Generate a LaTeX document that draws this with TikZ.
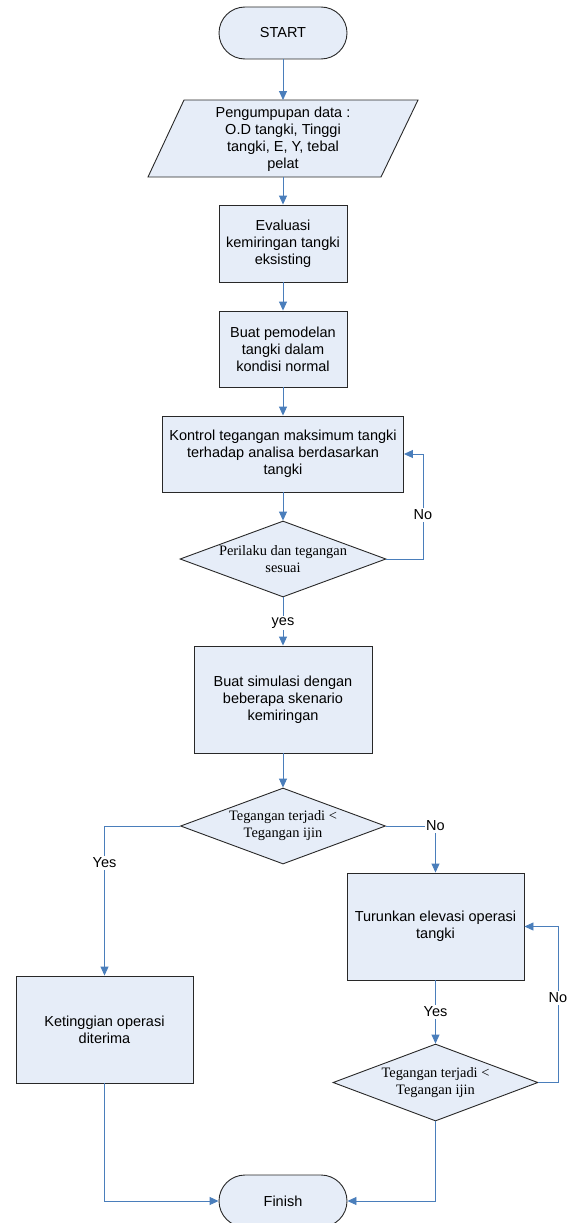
\documentclass[tikz,border=0pt]{standalone}
\usepackage{fontspec}
\setmainfont{Liberation Sans}
\newfontfamily\serifx{Liberation Serif}
\usetikzlibrary{arrows.meta,shapes.geometric,calc}
\definecolor{boxfill}{RGB}{230,237,248}
\definecolor{boxline}{RGB}{40,40,40}
\definecolor{connblue}{RGB}{74,126,187}
\begin{document}
\begin{tikzpicture}[x=1pt,y=-1pt,
  txt/.style={font=\fontsize{14.5}{17}\selectfont, align=center},
  boxnode/.style={draw=boxline, fill=boxfill, line width=0.9pt, txt, inner sep=2pt},
  termnode/.style={boxnode, rounded corners=26pt, minimum width=128pt, minimum height=52pt},
  dianode/.style={draw=boxline, fill=boxfill, line width=0.9pt, diamond, inner sep=0pt, aspect=2.7},
  diatxt/.style={font=\serifx\fontsize{14.4}{17}\selectfont, align=center, inner sep=0pt},
  conn/.style={draw=connblue, line width=0.9pt, -{Triangle[length=9pt,width=8pt]}},
  lbl/.style={txt, fill=white, inner sep=1.5pt}
]
\useasboundingbox (0,0) rectangle (574,1223);
\clip (0,0) rectangle (574,1223);

% nodes
\node[termnode] (start) at (283,33) {START};

\draw[draw=boxline, fill=boxfill, line width=0.9pt] (148,177) -- (184,100) -- (418,100) -- (381,177) -- cycle;
\coordinate (paraN) at (283,100);
\coordinate (paraS) at (283,177);
\node[txt, inner sep=0pt] (para) at (283,139) {Pengumpupan data :\\O.D tangki, Tinggi\\tangki, E, Y, tebal\\pelat};

\node[boxnode, minimum width=128pt, minimum height=77pt] (eval) at (283,243.5) {Evaluasi\\kemiringan tangki\\eksisting};
\node[boxnode, minimum width=128pt, minimum height=76pt] (pemod) at (283,349) {Buat pemodelan\\tangki dalam\\kondisi normal};
\node[boxnode, minimum width=241pt, minimum height=76pt] (kontrol) at (283,454) {Kontrol tegangan maksimum tangki\\terhadap analisa berdasarkan\\tangki};

\node[dianode, minimum width=206pt, minimum height=76pt] (d1) at (283,559) {};
\node[diatxt] (d1t) at (283,559) {Perilaku dan tegangan\\sesuai};

\node[boxnode, minimum width=178pt, minimum height=107pt] (sim) at (283,699.5) {Buat simulasi dengan\\beberapa skenario\\kemiringan};

\node[dianode, minimum width=205pt, minimum height=76pt] (d2) at (283,826) {};
\node[diatxt] (d2t) at (283,826) {Tegangan terjadi <\\Tegangan ijin};

\node[boxnode, minimum width=177pt, minimum height=107pt] (turun) at (435.5,926.5) {Turunkan elevasi operasi\\tangki};

\node[dianode, minimum width=205pt, minimum height=77pt] (d3) at (435.5,1082.5) {};
\node[diatxt] (d3t) at (435.5,1082.5) {Tegangan terjadi <\\Tegangan ijin};

\node[boxnode, minimum width=177pt, minimum height=107pt] (ket) at (104.5,1029.5) {Ketinggian operasi\\diterima};

\node[termnode] (fin) at (283,1201) {Finish};

% connectors
\draw[conn] (start.south) -- (paraN);
\draw[conn] (paraS) -- (eval.north);
\draw[conn] (eval.south) -- (pemod.north);
\draw[conn] (pemod.south) -- (kontrol.north);
\draw[conn] (kontrol.south) -- (d1.north);

\coordinate (l1) at (423,559);
\draw[conn] (d1.east) -- (l1) |- (kontrol.east);
\node[lbl] (no1) at (423,515) {No};

\draw[conn] (d1.south) -- (sim.north);
\node[lbl] (yes1) at (283,623) {yes};

\draw[conn] (sim.south) -- (d2.north);

\draw[conn] (d2.west) -| (ket.north);
\node[lbl] (yes2) at (104.5,863) {Yes};

\draw[conn] (d2.east) -| (turun.north);
\node[lbl] (no2) at (435.5,826) {No};

\draw[conn] (turun.south) -- (d3.north);
\node[lbl] (yes3) at (435.5,1012) {Yes};

\coordinate (l3) at (558,1082.5);
\draw[conn] (d3.east) -- (l3) |- (turun.east);
\node[lbl] (no3) at (558,998) {No};

\draw[conn] (ket.south) |- (fin.west);
\draw[conn] (d3.south) |- (fin.east);
\end{tikzpicture}
\end{document}
